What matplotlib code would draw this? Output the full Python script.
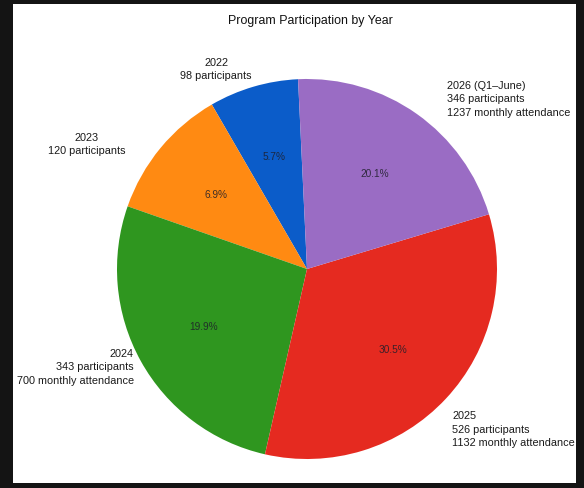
import numpy as np
import matplotlib
matplotlib.use("Agg")
import matplotlib.pyplot as plt
from matplotlib.patches import Rectangle

plt.rcParams['font.family'] = ['Liberation Sans', 'DejaVu Sans']

# data
years = ["2022", "2023", "2024", "2025", "2026 (Q1\u2013June)"]
participants = [98, 120, 343, 526, 346]
attendance = [None, None, 700, 1132, 1237]
wedge_share = [7.6, 11.3, 26.8, 33.2, 21.1]          # slice sizes as drawn
pct_labels = ["5.7%", "6.9%", "19.9%", "30.5%", "20.1%"]  # printed inside slices

colors = ["#0b5cc9", "#ff8a12", "#2f961f", "#e52a20", "#9a6cc4"]

labels = []
for y, p, a in zip(years, participants, attendance):
    txt = f"{y}\n{p} participants"
    if a is not None:
        txt += f"\n{a} monthly attendance"
    labels.append(txt)

W, H = 584, 489
fig = plt.figure(figsize=(W / 100, H / 100), dpi=100)
fig.patch.set_facecolor("#141414")
fig.add_artist(Rectangle((13 / W, 1 - 484 / H), (576 - 13) / W, (484 - 5) / H,
                         transform=fig.transFigure, facecolor="white",
                         edgecolor="none", zorder=0))

# pie centre at (307, 270) px, radius 190 px
lim = 1.45
side = 2 * lim * 190
cx, cy = 307, 270
ax = fig.add_axes([(cx - side / 2) / W, (H - cy - side / 2) / H, side / W, side / H])

wedges, texts = ax.pie(wedge_share, labels=labels, colors=colors,
                       startangle=92.7, labeldistance=1.1,
                       textprops={"fontsize": 7.8, "color": "#1a1a1a"})
ax.set_xlim(-lim, lim)
ax.set_ylim(-lim, lim)
ax.set_aspect("equal")
ax.axis("off")

# small nudges so the outside labels sit where they do in the reference
nudges = [(0.02, 0.0), (-0.11, -0.04), (0.05, 0.02), (-0.04, -0.09), (0.10, 0.0)]
aligns = ["center", "center", "right", "left", "left"]
for t, (dx, dy), ma in zip(texts, nudges, aligns):
    x, y = t.get_position()
    t.set_position((x + dx, y + dy))
    t.set_multialignment(ma)
    t.set_linespacing(1.4)

for w, lab in zip(wedges, pct_labels):
    ang = np.deg2rad((w.theta1 + w.theta2) / 2)
    ax.text(0.62 * np.cos(ang), 0.62 * np.sin(ang), lab, ha="center", va="center",
            fontsize=7.3, color="#1e1e2a", alpha=0.85)

fig.text(310 / W, 1 - 21 / H, "Program Participation by Year", ha="center",
         va="center", fontsize=8.9, color="#111111")

fig.savefig("out.png", dpi=100, facecolor=fig.get_facecolor())
